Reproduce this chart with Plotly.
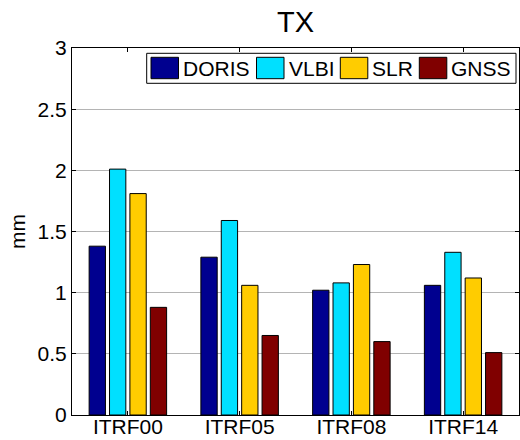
import plotly.graph_objects as go

categories = ["ITRF00", "ITRF05", "ITRF08", "ITRF14"]
series_names = ["DORIS", "VLBI", "SLR", "GNSS"]
doris = [1.38, 1.29, 1.02, 1.06]
vlbi = [2.01, 1.59, 1.08, 1.33]
slr = [1.81, 1.06, 1.23, 1.12]
gnss = [0.88, 0.65, 0.60, 0.51]
colors = ["#00008F", "#00E0FF", "#FFCC00", "#800000"]
y_ticks = [0, 0.5, 1, 1.5, 2, 2.5, 3]
y_ticklabels = ["0", "0.5", "1", "1.5", "2", "2.5", "3"]

W, H = 520, 440
L, R, T, B = 72, 1, 48, 25
PW, PH = W - L - R, H - T - B

FONT = "Liberation Sans, Arial, sans-serif"
FS = 21

fig = go.Figure()
for name, vals, col in zip(series_names, [doris, vlbi, slr, gnss], colors):
    fig.add_trace(go.Bar(x=categories, y=vals, name=name, marker_color=col,
                         marker_line_color="#000000", marker_line_width=1,
                         showlegend=False))


def px_x(px):
    return (px - L) / PW


def px_y(py):
    return (H - B - py) / PH


shapes = []
annotations = []
# legend box
shapes.append(dict(type="rect", xref="paper", yref="paper",
                   x0=px_x(146.7), x1=px_x(516), y0=px_y(83.3), y1=px_y(53.3),
                   line=dict(color="#000000", width=1), fillcolor="#ffffff", layer="above"))
sw_left = [151, 256.5, 340.3, 419.3]
for name, col, sx in zip(series_names, colors, sw_left):
    shapes.append(dict(type="rect", xref="paper", yref="paper",
                       x0=px_x(sx), x1=px_x(sx + 27.5), y0=px_y(78.7), y1=px_y(57.3),
                       line=dict(color="#000000", width=1), fillcolor=col, layer="above"))
    annotations.append(dict(text=name, xref="paper", yref="paper", x=px_x(sx + 30),
                            y=px_y(68.5), xanchor="left", yanchor="middle", showarrow=False,
                            font=dict(size=FS, color="#000000", family=FONT)))

fig.update_layout(
    width=W, height=H,
    margin=dict(l=L, r=R, t=T, b=B, autoexpand=False),
    paper_bgcolor="#ffffff", plot_bgcolor="#ffffff",
    barmode="group", bargap=0.27, bargroupgap=0.2,
    font=dict(family=FONT, size=FS, color="#000000"),
    title=dict(text="TX", x=0.5, xref="paper", xanchor="center",
               y=1 - 21.5 / H, yref="container", yanchor="middle",
               font=dict(size=29, color="#000000", family=FONT)),
    shapes=shapes, annotations=annotations,
    showlegend=False,
)
fig.update_xaxes(showline=True, linecolor="#000000", linewidth=1, mirror="ticks",
                 ticks="inside", ticklen=4, tickcolor="#000000", showgrid=False,
                 automargin=False, ticklabelstandoff=-7,
                 tickfont=dict(size=FS, color="#000000", family=FONT))
fig.update_yaxes(range=[0, 3], tickvals=y_ticks, ticktext=y_ticklabels,
                 showline=True, linecolor="#000000", linewidth=1, mirror="ticks",
                 ticks="inside", ticklen=4, tickcolor="#000000", automargin=False,
                 showgrid=True, gridcolor="#b4b4b4", gridwidth=1, zeroline=False,
                 tickfont=dict(size=FS, color="#000000", family=FONT),
                 title=dict(text="mm", standoff=6, font=dict(size=FS, color="#000000", family=FONT)))

fig.write_html("out.html")
